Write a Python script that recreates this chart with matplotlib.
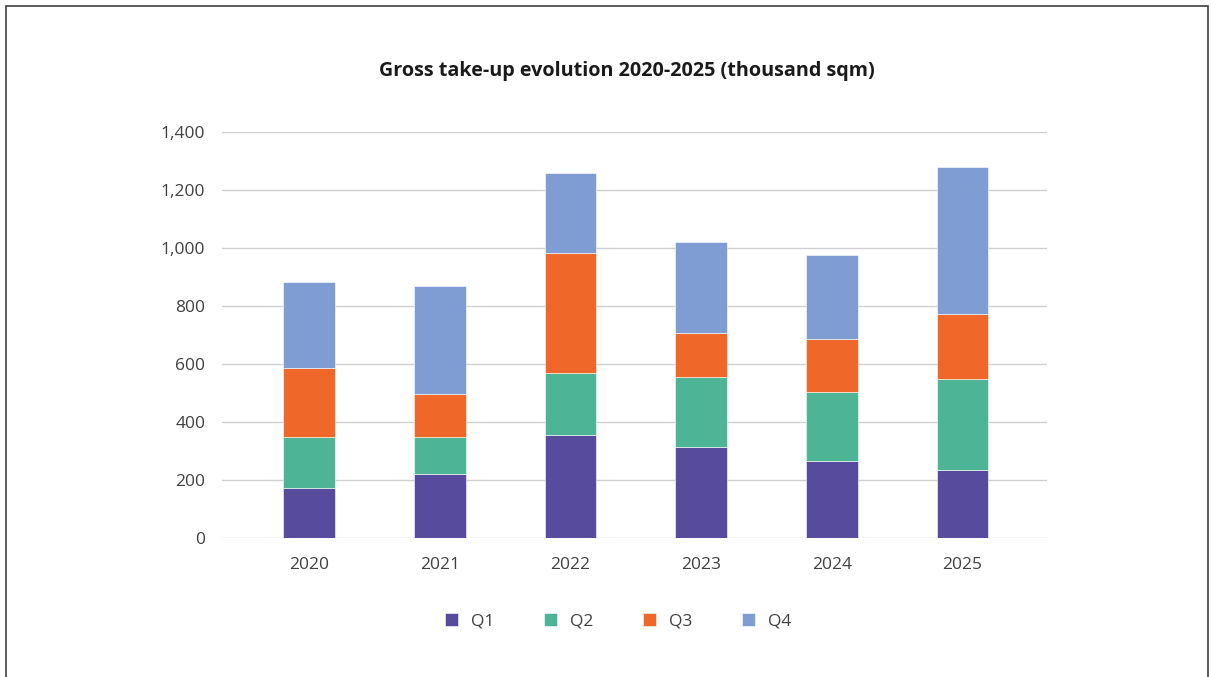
import matplotlib
matplotlib.use("Agg")
import matplotlib.pyplot as plt
from matplotlib.patches import Rectangle
import numpy as np

years = ["2020", "2021", "2022", "2023", "2024", "2025"]
q1 = [172, 222, 354, 315, 266, 236]
q2 = [175, 125, 216, 241, 239, 313]
q3 = [238, 151, 413, 151, 181, 224]
q4 = [297, 370, 274, 312, 289, 507]
series_names = ["Q1", "Q2", "Q3", "Q4"]
colors = ["#574b9e", "#4db596", "#ef6729", "#7f9dd2"]

plt.rcParams['font.family'] = ['Open Sans', 'DejaVu Sans']

fig = plt.figure(figsize=(12.11, 6.77), dpi=100)
fig.patches.append(Rectangle((6/1211, -0.1), (1208-6)/1211, 1 - 6/677 + 0.1,
                             transform=fig.transFigure, fill=False,
                             edgecolor="#404040", linewidth=1.2))

ax = fig.add_axes([222/1211, 1 - 538/677, (1047-222)/1211, (538-132)/677])
x = np.arange(len(years))
bottom = np.zeros(len(years))
for name, vals, c in zip(series_names, [q1, q2, q3, q4], colors):
    ax.bar(x, vals, width=0.395, bottom=bottom, color=c, label=name,
           edgecolor="white", linewidth=0.4, zorder=3)
    bottom += np.array(vals)

ax.set_ylim(0, 1400)
ax.set_xlim(-0.666, 5.647)
ax.set_yticks(range(0, 1401, 200))
ax.set_yticklabels([f"{v:,}" for v in range(0, 1401, 200)])
ax.set_xticks(x)
ax.set_xticklabels(years)
ax.grid(axis="y", color="#d0d0d0", linewidth=1, zorder=0)
for s in ax.spines.values():
    s.set_visible(False)
ax.tick_params(axis="both", length=0, labelsize=12.5, colors="#404040")
ax.tick_params(axis="y", pad=12)
ax.tick_params(axis="x", pad=14)

fig.text(627/1211, 1 - 71/677, "Gross take-up evolution 2020-2025 (thousand sqm)",
         ha="center", va="center", fontsize=14.2, fontweight="bold", color="#1a1a1a")

leg = fig.legend(loc="center", bbox_to_anchor=(618/1211, 1 - 621/677), ncol=4,
                 frameon=False, fontsize=12.5, handlelength=0.75, handleheight=0.75,
                 columnspacing=2.85, handletextpad=0.75)
for t in leg.get_texts():
    t.set_color("#404040")

fig.savefig("out.png", dpi=100)
